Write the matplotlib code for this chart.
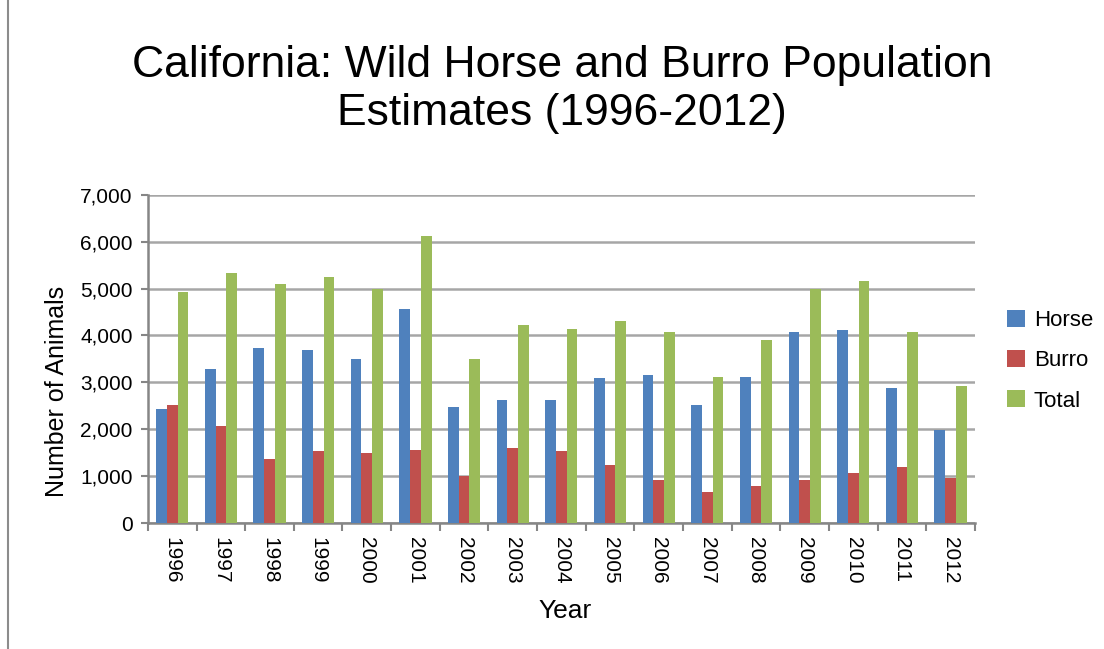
import numpy as np
import matplotlib
matplotlib.use("Agg")
import matplotlib.pyplot as plt
from matplotlib.lines import Line2D

plt.rcParams['font.family'] = ['Liberation Sans', 'DejaVu Sans']

years = ["1996", "1997", "1998", "1999", "2000", "2001", "2002", "2003", "2004",
         "2005", "2006", "2007", "2008", "2009", "2010", "2011", "2012"]
horse = [2440, 3290, 3740, 3700, 3500, 4570, 2480, 2630, 2630,
         3100, 3160, 2520, 3120, 4080, 4120, 2890, 1990]
burro = [2520, 2080, 1370, 1540, 1500, 1560, 1010, 1610, 1540,
         1240, 920, 670, 800, 920, 1070, 1200, 970]
total = [4930, 5340, 5100, 5250, 4980, 6130, 3500, 4230, 4140,
         4310, 4080, 3120, 3910, 4980, 5170, 4080, 2930]

colors = ["#4f81bd", "#c0504d", "#9bbb59"]
grid_gray = "#a6a6a6"
axis_gray = "#868686"

fig = plt.figure(figsize=(11.04, 6.49), dpi=100)
ax = fig.add_axes([0.134, 0.194, 0.749, 0.506])

x = np.arange(len(years))
w = 0.22
ax.bar(x - w, horse, w, color=colors[0], label="Horse", zorder=3)
ax.bar(x, burro, w, color=colors[1], label="Burro", zorder=3)
ax.bar(x + w, total, w, color=colors[2], label="Total", zorder=3)

ax.set_xlim(-0.5, len(years) - 0.5)
ax.set_ylim(0, 7000)
ax.set_yticks(range(0, 7001, 1000))
ax.set_yticklabels([f"{v:,}" for v in range(0, 7001, 1000)], fontsize=15)
ax.yaxis.grid(True, color=grid_gray, linewidth=1.8, zorder=0)
ax.tick_params(axis='y', length=5, width=1.5, color=axis_gray, pad=6)

ax.set_xticks(x)
ax.set_xticklabels(years, rotation=-90, fontsize=15)
ax.tick_params(axis='x', which='major', length=0, pad=10)
ax.set_xticks(np.arange(-0.5, len(years), 1), minor=True)
ax.tick_params(axis='x', which='minor', length=6, width=1.5, color=axis_gray)

for s in ["top", "right"]:
    ax.spines[s].set_visible(False)
for s in ["left", "bottom"]:
    ax.spines[s].set_color(axis_gray)
    ax.spines[s].set_linewidth(1.8)

ax.set_xlabel("Year", fontsize=19)
ax.xaxis.set_label_coords(0.505, -0.23)
ax.set_ylabel("Number of Animals", fontsize=18)
ax.yaxis.set_label_coords(-0.095, 0.40)

fig.text(0.509, 0.862, "California: Wild Horse and Burro Population\nEstimates (1996-2012)",
         ha="center", va="center", fontsize=32, linespacing=1.2)

ax.legend(loc="center left", bbox_to_anchor=(1.015, 0.494), frameon=False,
          fontsize=16, handlelength=0.8, handleheight=0.8, labelspacing=0.85,
          handletextpad=0.4)

fig.add_artist(Line2D([8 / 1104, 8 / 1104], [0, 1], transform=fig.transFigure,
                      color="#8c8c8c", linewidth=1.5))

fig.savefig("out.png", dpi=100)
